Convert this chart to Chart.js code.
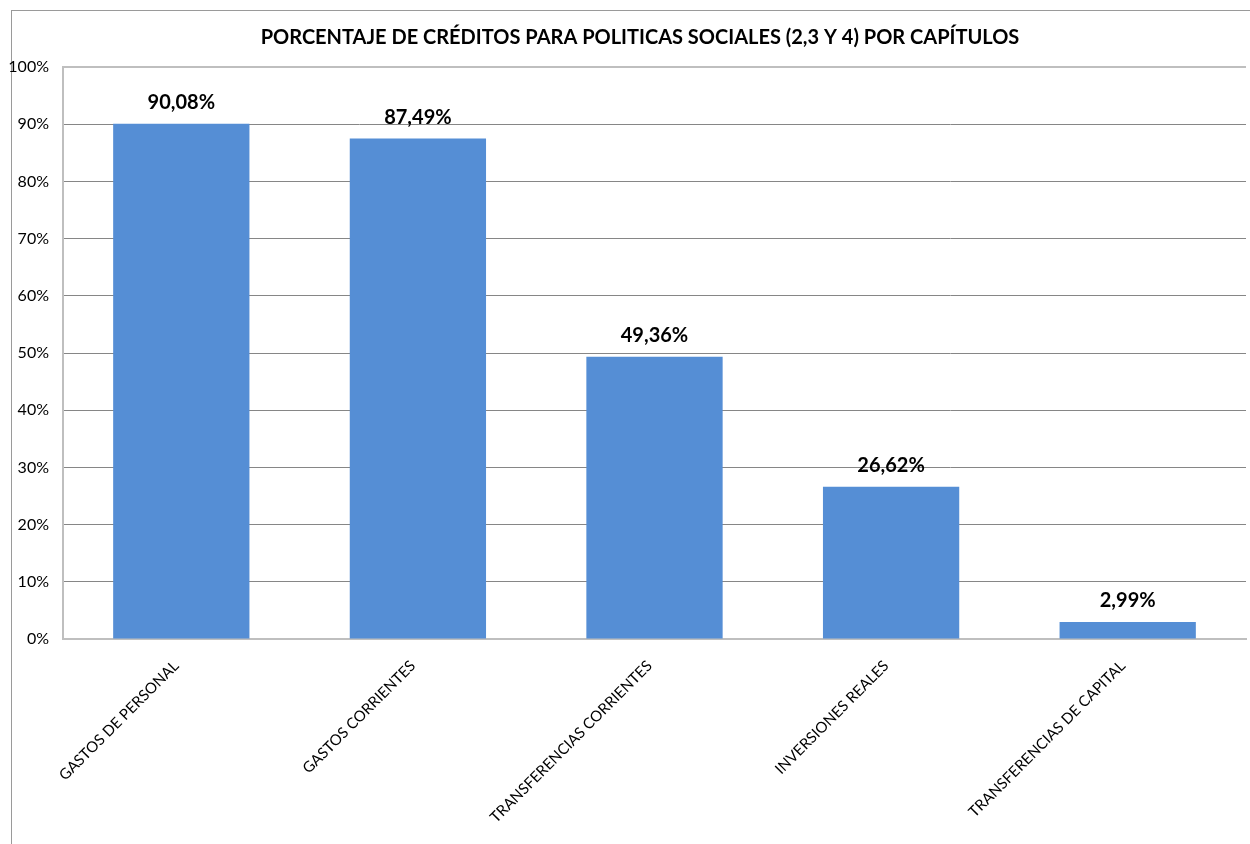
<!DOCTYPE html>
<html>
<head>
<meta charset="utf-8">
<script src="https://cdn.jsdelivr.net/npm/chart.js@4/dist/chart.umd.min.js"></script>
<style>
    html, body { margin: 0; padding: 0; background: #fff; overflow: hidden; }
    #frame { position: absolute; left: 11px; top: 10px; width: 1400px; height: 1000px; border: 1px solid #9a9a9a; }
    #wrap { position: absolute; left: 0; top: 0; width: 1250px; height: 844px; }
</style>
</head>
<body>
<div id="frame"></div>
<div id="wrap"><canvas id="chart"></canvas></div>
<script>
// Datos
const categorias = ['GASTOS DE PERSONAL', 'GASTOS CORRIENTES', 'TRANSFERENCIAS CORRIENTES', 'INVERSIONES REALES', 'TRANSFERENCIAS DE CAPITAL'];
const porcentajes = [90.08, 87.49, 49.36, 26.62, 2.99];
const titulo = 'PORCENTAJE DE CRÉDITOS PARA POLITICAS SOCIALES (2,3 Y 4) POR CAPÍTULOS';

const fuente = 'Lato';

// Etiquetas de valor encima de cada barra
const etiquetasValor = {
    id: 'etiquetasValor',
    afterLayout(chart) {
        // el título del original está algo desplazado a la derecha
        chart.titleBlock.left = 34;
    },
    afterDatasetsDraw(chart) {
        const ctx = chart.ctx;
        const meta = chart.getDatasetMeta(0);
        ctx.save();
        ctx.font = 'bold 20px ' + fuente;
        ctx.fillStyle = '#000';
        ctx.textAlign = 'center';
        ctx.textBaseline = 'alphabetic';
        meta.data.forEach((bar, i) => {
            const txt = porcentajes[i].toFixed(2).replace('.', ',') + '%';
            ctx.fillText(txt, bar.x, bar.y - 15);
        });
        ctx.restore();
    }
};

new Chart(document.getElementById('chart').getContext('2d'), {
    type: 'bar',
    data: {
        labels: categorias,
        datasets: [{
            data: porcentajes,
            backgroundColor: '#558ED5',
            categoryPercentage: 1,
            barPercentage: 0.576
        }]
    },
    options: {
        responsive: true,
        maintainAspectRatio: false,
        animation: false,
        layout: { padding: { left: 0, right: 4, top: 10, bottom: 0 } },
        plugins: {
            legend: { display: false },
            tooltip: { enabled: false },
            title: {
                display: true,
                text: titulo,
                color: '#000',
                font: { family: fuente, size: 20, weight: 'bold' },
                padding: { top: 16, bottom: 17 }
            }
        },
        scales: {
            x: {
                grid: { display: false },
                border: { color: '#BFBFBF', width: 2 },
                ticks: {
                    color: '#000',
                    font: { family: fuente, size: 15 },
                    minRotation: 45,
                    maxRotation: 45,
                    padding: 10,
                    labelOffset: -5
                },
                afterFit: (scale) => { scale.height = 205; }
            },
            y: {
                min: 0,
                max: 100,
                ticks: {
                    stepSize: 10,
                    color: '#000',
                    font: { family: fuente, size: 16 },
                    padding: 14,
                    callback: (v) => v + '%'
                },
                grid: {
                    drawTicks: false,
                    color: (c) => c.tick.value === 100 ? '#BFBFBF' : (c.tick.value === 0 ? 'rgba(0,0,0,0)' : '#868686'),
                    lineWidth: (c) => c.tick.value === 100 ? 2 : 1
                },
                border: { color: '#BFBFBF', width: 2 },
                afterFit: (scale) => { scale.width = 63; }
            }
        }
    },
    plugins: [etiquetasValor]
});
</script>
</body>
</html>
